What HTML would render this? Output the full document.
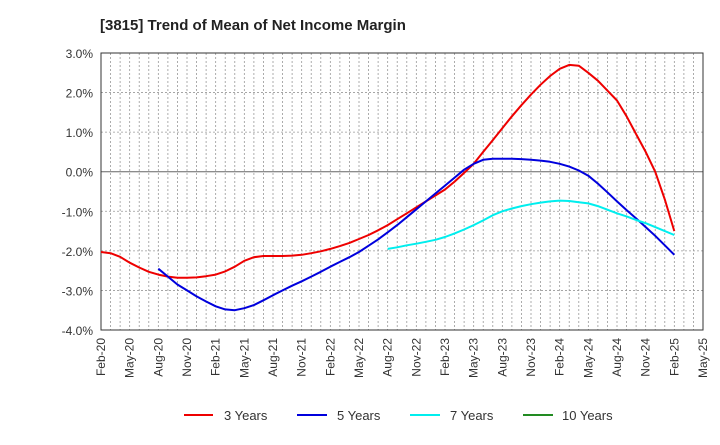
<!DOCTYPE html>
<html><head><meta charset="utf-8"><style>
body{margin:0;background:#fff;font-family:"Liberation Sans",Arial,sans-serif}
svg text{font-family:"Liberation Sans",Arial,sans-serif}
</style></head><body>
<svg id="c" width="720" height="440" viewBox="0 0 720 440">
<text x="100" y="30" font-size="15" font-weight="bold" fill="#222">[3815]  Trend of Mean of Net Income Margin</text>
<g id="grid"></g>
<g id="axes"></g>
<g id="series"></g>
<g>
<line x1="184" y1="415" x2="213" y2="415" stroke="#e00" stroke-width="2"/>
<text x="224" y="420" font-size="13" fill="#333">3 Years</text>
<line x1="297" y1="415" x2="327" y2="415" stroke="#00d" stroke-width="2"/>
<text x="337" y="420" font-size="13" fill="#333">5 Years</text>
<line x1="410" y1="415" x2="440" y2="415" stroke="#0ee" stroke-width="2"/>
<text x="450" y="420" font-size="13" fill="#333">7 Years</text>
<line x1="523" y1="415" x2="553" y2="415" stroke="#228b22" stroke-width="2"/>
<text x="562" y="420" font-size="13" fill="#333">10 Years</text>
</g>
</svg>
<script>
const xLabels=["Feb-20","May-20","Aug-20","Nov-20","Feb-21","May-21","Aug-21","Nov-21","Feb-22","May-22","Aug-22","Nov-22","Feb-23","May-23","Aug-23","Nov-23","Feb-24","May-24","Aug-24","Nov-24","Feb-25","May-25"];
const yTicks=[3,2,1,0,-1,-2,-3,-4];
const s3=[-2.03,-2.06,-2.15,-2.3,-2.42,-2.53,-2.6,-2.65,-2.68,-2.68,-2.67,-2.64,-2.6,-2.52,-2.4,-2.25,-2.16,-2.13,-2.13,-2.13,-2.12,-2.1,-2.06,-2.01,-1.95,-1.88,-1.8,-1.7,-1.6,-1.48,-1.35,-1.2,-1.05,-0.9,-0.75,-0.6,-0.45,-0.25,-0.03,0.2,0.5,0.8,1.1,1.4,1.68,1.95,2.2,2.42,2.6,2.7,2.68,2.5,2.3,2.05,1.8,1.4,0.95,0.5,0.0,-0.7,-1.5];
const s5=[null,null,null,null,null,null,-2.45,-2.65,-2.85,-3.0,-3.15,-3.28,-3.4,-3.48,-3.5,-3.45,-3.37,-3.25,-3.12,-3.0,-2.88,-2.77,-2.65,-2.53,-2.4,-2.28,-2.16,-2.03,-1.87,-1.71,-1.53,-1.35,-1.15,-0.95,-0.75,-0.55,-0.35,-0.15,0.05,0.2,0.3,0.33,0.33,0.33,0.32,0.3,0.28,0.25,0.2,0.13,0.03,-0.1,-0.3,-0.52,-0.75,-0.97,-1.18,-1.4,-1.62,-1.86,-2.1];
const s7=[];for(let i=0;i<30;i++)s7.push(null);
s7.push(-1.95,-1.91,-1.86,-1.82,-1.77,-1.72,-1.65,-1.56,-1.46,-1.35,-1.23,-1.1,-1.0,-0.93,-0.87,-0.82,-0.78,-0.75,-0.73,-0.74,-0.77,-0.8,-0.87,-0.96,-1.05,-1.13,-1.22,-1.3,-1.4,-1.5,-1.6);
const s10=[];
const L=101,R=703,T=53,B=330,NS="http://www.w3.org/2000/svg";
const X=m=>L+m*(R-L)/63, Y=v=>T+(3-v)*(B-T)/7;
function el(t,a,p,name){const e=document.createElementNS(NS,t);for(const k in a)e.setAttribute(k,a[k]);


document.getElementById(p).appendChild(e);return e;}
for(let m=1;m<63;m++)el('line',{x1:X(m),x2:X(m),y1:T,y2:B,stroke:'#999','stroke-dasharray':'2,2','stroke-width':0.8},'grid','v-gridline');
yTicks.forEach(v=>{if(v!==3&&v!==-4)el('line',{x1:L,x2:R,y1:Y(v),y2:Y(v),stroke:v===0?'#666':'#999','stroke-dasharray':v===0?'':'2,2','stroke-width':v===0?1:0.8},'grid','h-gridline');
const t=el('text',{x:L-8,y:Y(v)+5,'text-anchor':'end','font-size':12,fill:'#333'},'axes','y-tick-label');t.textContent=v.toFixed(1)+'%';});
el('rect',{x:L,y:T,width:R-L,height:B-T,fill:'none',stroke:'#333','stroke-width':1},'axes','plot-frame');
xLabels.forEach((s,i)=>{const x=X(i*3),y=B+8;const t=el('text',{x:x+4,y:y,'text-anchor':'end','font-size':12,fill:'#333',transform:`rotate(-90 ${x+4} ${y})`},'axes','x-tick-label');t.textContent=s;});
function line(d,c,n){let p='';d.forEach((v,i)=>{if(v==null)return;p+=(p?'L':'M')+X(i).toFixed(1)+','+Y(v).toFixed(1);});if(p)el('path',{d:p,fill:'none',stroke:c,'stroke-width':2,'stroke-linejoin':'round'},'series',n);}
line(s3,'#e00','line-3-years');line(s5,'#00d','line-5-years');line(s7,'#0ee','line-7-years');line(s10,'#228b22','line-10-years');
</script>
</body></html>
